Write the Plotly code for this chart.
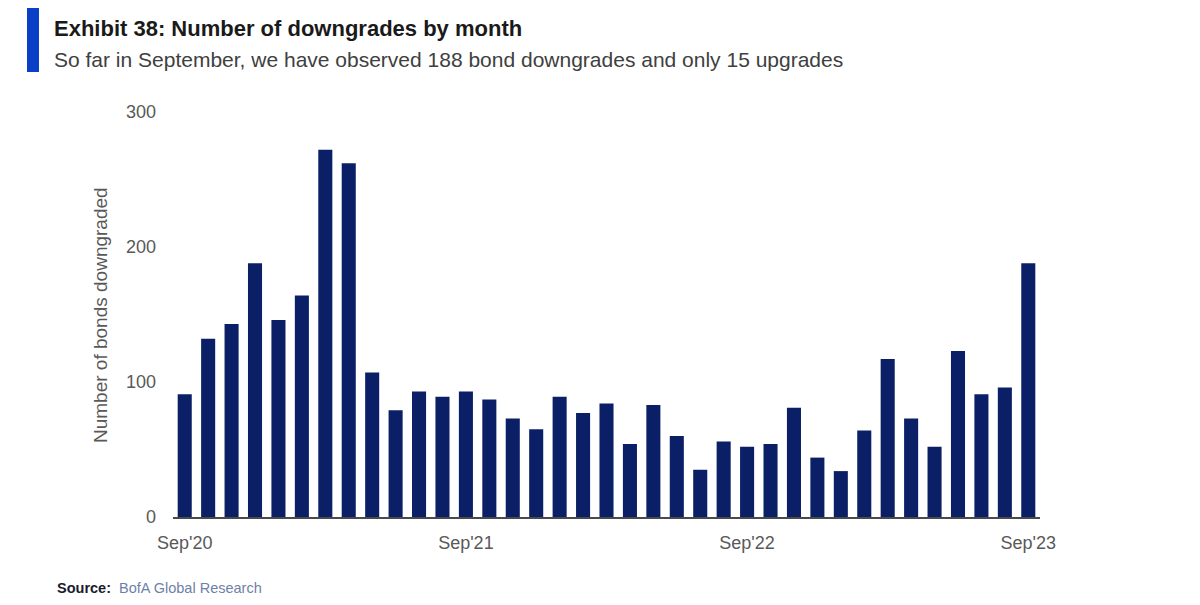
import plotly.graph_objects as go

months = ["Sep'20", "Oct'20", "Nov'20", "Dec'20", "Jan'21", "Feb'21", "Mar'21", "Apr'21",
          "May'21", "Jun'21", "Jul'21", "Aug'21", "Sep'21", "Oct'21", "Nov'21", "Dec'21",
          "Jan'22", "Feb'22", "Mar'22", "Apr'22", "May'22", "Jun'22", "Jul'22", "Aug'22",
          "Sep'22", "Oct'22", "Nov'22", "Dec'22", "Jan'23", "Feb'23", "Mar'23", "Apr'23",
          "May'23", "Jun'23", "Jul'23", "Aug'23", "Sep'23"]
downgrades = [91, 132, 143, 188, 146, 164, 272, 262, 107, 79, 93, 89, 93,
              87, 73, 65, 89, 77, 84, 54, 83, 60, 35, 56, 52, 54, 81, 44, 34,
              64, 117, 73, 52, 123, 91, 96, 188]
tick_labels = ["Sep'20", "Sep'21", "Sep'22", "Sep'23"]
y_ticks = [0, 100, 200, 300]

FONT = "Liberation Sans Narrow, Arial Narrow, Liberation Sans, sans-serif"
NAVY = "#0b1f66"
GREY = "#595959"

OFF = 8  # default page margin offset
W, H = 1200, 605
L, R = 173 - OFF, W - (1040 - OFF)
T, B = 112 - OFF, H - (517 - OFF)
pw, ph = W - L - R, H - T - B

def px(x):
    return (x - OFF - L) / pw

def py(y):
    return (H - B - (y - OFF)) / ph

fig = go.Figure()
fig.add_trace(go.Bar(x=months, y=downgrades, marker=dict(color=NAVY, line=dict(width=0)),
                     width=0.6, hoverinfo="x+y"))

fig.update_layout(
    width=W, height=H,
    margin=dict(l=L, r=R, t=T, b=B),
    paper_bgcolor="white", plot_bgcolor="white",
    showlegend=False,
    bargap=0.4,
    font=dict(family=FONT, color=GREY, size=17),
    xaxis=dict(type="category", categoryorder="array", categoryarray=months,
               tickvals=tick_labels, ticktext=tick_labels,
               showgrid=False, zeroline=False, showline=True, linecolor="#4a4a4a", linewidth=2,
               ticks="", ticklabelstandoff=8, tickfont=dict(size=18, color=GREY),
               range=[-0.5, len(months) - 0.5]),
    yaxis=dict(range=[0, 300], tickvals=y_ticks, showgrid=False, zeroline=False,
               showline=False, ticks="", ticklabelstandoff=16,
               tickfont=dict(size=18, color=GREY)),
    shapes=[dict(type="rect", xref="paper", yref="paper",
                 x0=px(27), x1=px(39), y0=py(72), y1=py(8),
                 fillcolor="#0a3fc8", line=dict(width=0))],
    annotations=[
        dict(text="<b>Exhibit 38: Number of downgrades by month</b>", xref="paper", yref="paper",
             x=px(52), y=py(29), xanchor="left", yanchor="middle", showarrow=False,
             font=dict(family=FONT, size=22, color="#1a1a1a")),
        dict(text="So far in September, we have observed 188 bond downgrades and only 15 upgrades",
             xref="paper", yref="paper", x=px(52), y=py(59), xanchor="left", yanchor="middle",
             showarrow=False, font=dict(family=FONT, size=21, color="#404040")),
        dict(text="Number of bonds downgraded", xref="paper", yref="paper",
             x=px(100), y=py(315), xanchor="center", yanchor="middle", textangle=-90,
             showarrow=False, font=dict(family=FONT, size=19, color=GREY)),
        dict(text="<b>Source:</b>  <span style='color:#6f7fa8'>BofA Global Research</span>",
             xref="paper", yref="paper", x=px(55), y=py(588), xanchor="left", yanchor="middle",
             showarrow=False, font=dict(family=FONT, size=14.5, color="#1a1a2e")),
    ],
)

fig.write_html("out.html")
